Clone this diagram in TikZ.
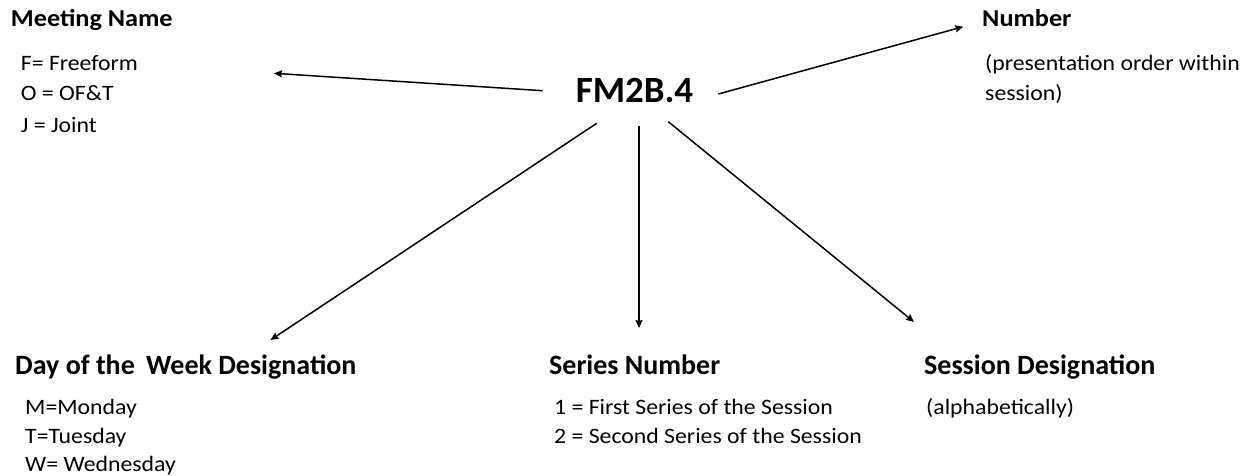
\documentclass[tikz,border=0pt]{standalone}
\usepackage{fontspec}
\setmainfont{Carlito}
\usetikzlibrary{arrows.meta}
\newcommand\hx[1]{\scalebox{1.08}[1]{#1}}
\begin{document}
\begin{tikzpicture}[x=1pt,y=-1pt,
  head/.style={anchor=base west,inner sep=0pt,font=\fontsize{24.3}{28}\selectfont\bfseries},
  bighead/.style={anchor=base west,inner sep=0pt,font=\fontsize{28}{32}\selectfont\bfseries},
  body/.style={anchor=base west,inner sep=0pt,font=\fontsize{22}{26}\selectfont},
  code/.style={anchor=base,inner sep=0pt,font=\fontsize{37}{40}\selectfont\bfseries},
  conn/.style={line width=1.5pt,-{Stealth[length=8pt,width=7pt,inset=1pt]}}]
\useasboundingbox (0,0) rectangle (1255,476);
% headings
\node[head] (mname) at (10.7,27) {\hx{Meeting Name}};
\node[head] (num) at (982,26.5) {\hx{Number}};
\node[bighead] (day) at (15,374) {Day of the\hspace{0.4em}Week Designation};
\node[bighead] (ser) at (549,374) {Series Number};
\node[bighead] (ses) at (924,374) {Session Designation};
% bodies
\node[body] (f) at (20.7,71) {\hx{F= Freeform}};
\node[body] (o) at (20.7,101) {\hx{O = OF\&T}};
\node[body] (j) at (20.7,132) {\hx{J = Joint}};
\node[body] (p1) at (985,71) {\hx{(presentation order within}};
\node[body] (p2) at (985,101) {\hx{session)}};
\node[body] (m) at (25,414) {\hx{M=Monday}};
\node[body] (t) at (25,443) {\hx{T=Tuesday}};
\node[body] (w) at (25,471.5) {\hx{W= Wednesday}};
\node[body] (s1) at (554,414) {\hx{1 = First Series of the Session}};
\node[body] (s2) at (554,443) {\hx{2 = Second Series of the Session}};
\node[body] (al) at (926,414) {\hx{(alphabetically)}};
% central code
\node[code] (fm) at (634.5,102.7) {FM2B.4};
% connector end points
\coordinate (aL0) at (542.7,90.7);
\coordinate (aL1) at (274,73.3);
\coordinate (aR0) at (718.3,94);
\coordinate (aR1) at (963.3,26.7);
\coordinate (aD0) at (596.7,123.3);
\coordinate (aD1) at (270.5,340);
\coordinate (aV0) at (639,126);
\coordinate (aV1) at (639,328);
\coordinate (aS0) at (668.3,121.7);
\coordinate (aS1) at (914,322);
\draw[conn] (aL0) -- (aL1);
\draw[conn] (aR0) -- (aR1);
\draw[conn] (aD0) -- (aD1);
\draw[conn] (aV0) -- (aV1);
\draw[conn] (aS0) -- (aS1);
\end{tikzpicture}
\end{document}
